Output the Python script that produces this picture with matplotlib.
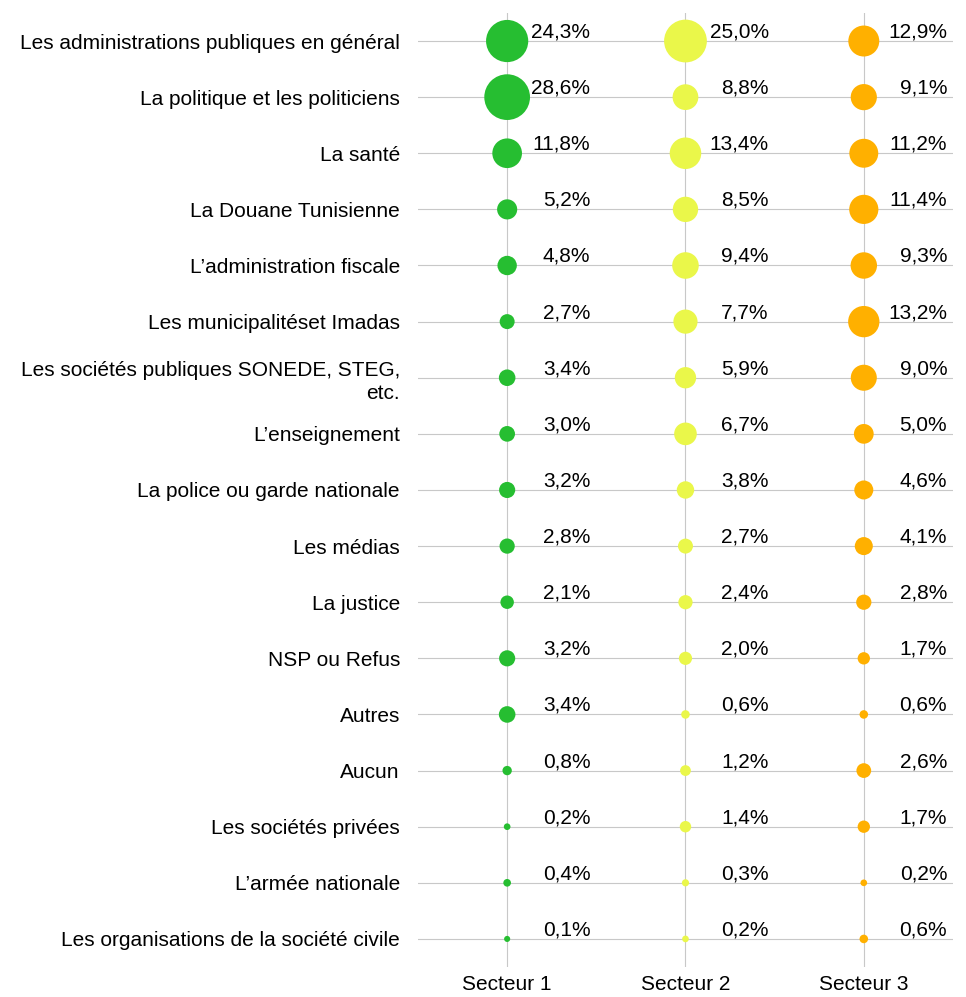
import numpy as np
import matplotlib.pyplot as plt

plt.rcParams["font.family"] = ["Liberation Sans", "DejaVu Sans"]

categories = [
    "Les administrations publiques en général",
    "La politique et les politiciens",
    "La santé",
    "La Douane Tunisienne",
    "L\u2019administration fiscale",
    "Les municipalitéset Imadas",
    "Les sociétés publiques SONEDE, STEG,\netc.",
    "L\u2019enseignement",
    "La police ou garde nationale",
    "Les médias",
    "La justice",
    "NSP ou Refus",
    "Autres",
    "Aucun",
    "Les sociétés privées",
    "L\u2019armée nationale",
    "Les organisations de la société civile",
]
sectors = ["Secteur 1", "Secteur 2", "Secteur 3"]

secteur1 = [24.3, 28.6, 11.8, 5.2, 4.8, 2.7, 3.4, 3.0, 3.2, 2.8, 2.1, 3.2, 3.4, 0.8, 0.2, 0.4, 0.1]
secteur2 = [25.0, 8.8, 13.4, 8.5, 9.4, 7.7, 5.9, 6.7, 3.8, 2.7, 2.4, 2.0, 0.6, 1.2, 1.4, 0.3, 0.2]
secteur3 = [12.9, 9.1, 11.2, 11.4, 9.3, 13.2, 9.0, 5.0, 4.6, 4.1, 2.8, 1.7, 0.6, 2.6, 1.7, 0.2, 0.6]

colors = ["#26BE31", "#EAF74A", "#FFB000"]
fs = 15

fig = plt.figure(figsize=(9.66, 9.97), dpi=100)
ax = fig.add_axes([0.4327, 0.0301, 0.5538, 0.9569])

n = len(categories)
y = np.arange(n, 0, -1)

for i, (vals, col) in enumerate(zip([secteur1, secteur2, secteur3], colors)):
    v = np.array(vals)
    # bubble area roughly proportional to value, with a small minimum size
    d_px = np.sqrt(30 + 72 * v)
    s = (d_px * 0.72) ** 2
    xs = np.full(n, i + 1)
    ax.scatter(xs, y, s=s, color=col, edgecolors="none", zorder=3)
    for yy, val in zip(y, v):
        ax.annotate(f"{val:.1f}%".replace(".", ","), (i + 1, yy),
                    xytext=(60, 6.5), textcoords="offset points",
                    ha="right", va="center", fontsize=fs, zorder=4)

ax.set_xlim(0.5, 3.5)
ax.set_ylim(0.5, n + 0.5)
ax.set_xticks([1, 2, 3])
ax.set_xticklabels(sectors, fontsize=fs)
ax.set_yticks(y)
ax.set_yticklabels(categories, fontsize=fs, linespacing=1.3)
ax.tick_params(axis="both", length=0)
ax.tick_params(axis="y", pad=13)
ax.tick_params(axis="x", pad=6)
ax.grid(True, color="#C8C8C8", linewidth=0.8, zorder=0)
ax.set_axisbelow(True)
for sp in ax.spines.values():
    sp.set_visible(False)

fig.savefig("out.png", dpi=100)
